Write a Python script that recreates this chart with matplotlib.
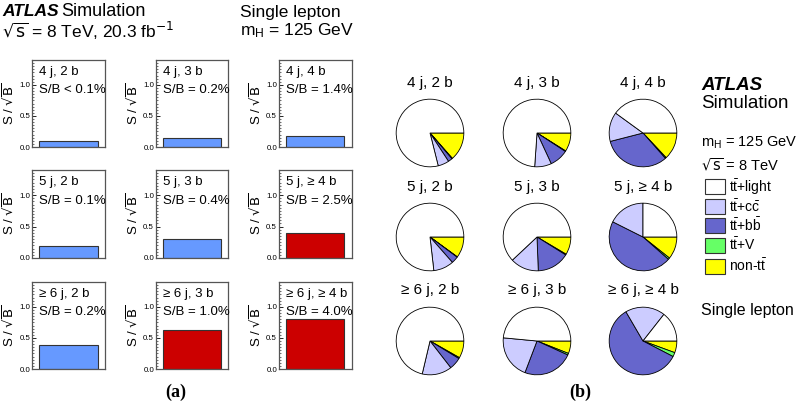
import matplotlib
matplotlib.use("Agg")
import matplotlib.pyplot as plt
from matplotlib.ticker import MultipleLocator
from matplotlib.patches import Rectangle

plt.rcParams["font.family"] = ["Liberation Sans", "DejaVu Sans"]
plt.rcParams["mathtext.fontset"] = "custom"
plt.rcParams["mathtext.rm"] = "Liberation Sans"
plt.rcParams["mathtext.it"] = "Liberation Sans:italic"
plt.rcParams["mathtext.bf"] = "Liberation Sans:bold"

W, H = 798, 403

# ---- data ----
regions = ["4 j, 2 b", "4 j, 3 b", "4 j, 4 b",
           "5 j, 2 b", "5 j, 3 b", "5 j, \u2265 4 b",
           "\u2265 6 j, 2 b", "\u2265 6 j, 3 b", "\u2265 6 j, \u2265 4 b"]
s_over_b = ["S/B < 0.1%", "S/B = 0.2%", "S/B = 1.4%",
            "S/B = 0.1%", "S/B = 0.4%", "S/B = 2.5%",
            "S/B = 0.2%", "S/B = 1.0%", "S/B = 4.0%"]
s_over_sqrtb = [0.09, 0.15, 0.18,
                0.19, 0.31, 0.40,
                0.39, 0.63, 0.81]
signal_rich = [False, False, False,
               False, False, True,
               False, True, True]

# pie fractions (%) in drawing order: non-tt, tt+V, tt+bb, tt+cc, tt+light
non_tt = [13.5, 8.9, 13.0, 10.0, 8.5, 10.7, 8.2, 6.0, 5.6]
tt_v = [0.3, 0.3, 0.5, 0.2, 0.4, 0.8, 0.5, 0.8, 2.0]
tt_bb = [2.0, 8.9, 32.5, 3.3, 15.5, 45.9, 5.8, 24.0, 59.0]
tt_cc = [5.3, 8.0, 14.0, 9.7, 13.6, 17.6, 14.2, 20.7, 19.0]
tt_light = [78.9, 73.9, 40.0, 76.8, 62.0, 25.0, 71.3, 48.5, 14.4]

comp_labels = [r"$\mathrm{t\bar{t}}$+light", r"$\mathrm{t\bar{t}}$+$\mathrm{c\bar{c}}$",
               r"$\mathrm{t\bar{t}}$+$\mathrm{b\bar{b}}$", r"$\mathrm{t\bar{t}}$+V",
               r"non-$\mathrm{t\bar{t}}$"]
comp_colors = ["white", "#ccccff", "#6666cc", "#66ff66", "#ffff00"]

fig = plt.figure(figsize=(W / 100, H / 100), dpi=100)


def fx(x):
    return x / W


def fy(y):
    return 1 - y / H


def ftext(x, y, s, **kw):
    kw.setdefault("va", "center")
    fig.text(fx(x), fy(y), s, **kw)


# ---- (a) bar panels ----
col_left = [32, 155.5, 278.5]
row_tb = [(60, 147), (170, 258), (282, 369)]
aw = 73
for i in range(9):
    r, c = divmod(i, 3)
    top, bot = row_tb[r]
    ax = fig.add_axes([fx(col_left[c]), fy(bot), aw / W, (bot - top) / H])
    color = "#cc0000" if signal_rich[i] else "#6699ff"
    ax.bar([0.5], [s_over_sqrtb[i]], width=0.8, color=color, edgecolor="#333333", lw=0.8)
    ax.set_xlim(0, 1)
    ax.set_ylim(0, 1.4)
    ax.set_xticks([])
    ax.yaxis.set_minor_locator(MultipleLocator(0.05))
    ax.set_yticks([0, 0.5, 1.0])
    ax.set_yticklabels(["0.0", "0.5", "1.0"])
    ax.tick_params(axis="y", which="major", direction="in", length=3, labelsize=5.7, pad=1, width=0.6)
    ax.tick_params(axis="y", which="minor", direction="in", length=1.5, width=0.4)
    for sp in ax.spines.values():
        sp.set_color("#555555")
        sp.set_linewidth(0.9)
    ax.set_ylabel(r"S / $\sqrt{\mathrm{B}}$", fontsize=9.5, labelpad=2,
                  math_fontfamily="dejavusans")
    ax.text(0.1, 0.93, regions[i], transform=ax.transAxes, fontsize=9.5, va="top")
    ax.text(0.1, 0.72, s_over_b[i], transform=ax.transAxes, fontsize=9.5, va="top")

ftext(2, 12, "ATLAS", fontsize=12.5, fontweight="bold", style="italic")
ftext(61, 12, "Simulation", fontsize=13)
ftext(2, 31, r"$\sqrt{\mathrm{s}}$ = 8 TeV, 20.3 fb$^{\mathrm{-1}}$", fontsize=12.5,
      math_fontfamily="dejavusans")
ftext(240, 12, "Single lepton", fontsize=12.5)
ftext(240, 31, r"m$_\mathrm{H}$ = 125 GeV", fontsize=12.5)
ftext(176, 392, "(a)", fontsize=13, fontweight="bold", family="Liberation Serif", ha="center")

# ---- (b) pie charts ----
pie_cx = [430, 537, 643]
pie_cy = [133, 237, 341]
title_y = [83, 187, 290]
rad = 34.5
for i in range(9):
    r, c = divmod(i, 3)
    ax = fig.add_axes([fx(pie_cx[c] - rad), fy(pie_cy[r] + rad), 2 * rad / W, 2 * rad / H])
    vals = [non_tt[i], tt_v[i], tt_bb[i], tt_cc[i], tt_light[i]]
    cols = [comp_colors[4], comp_colors[3], comp_colors[2], comp_colors[1], comp_colors[0]]
    ax.pie(vals, colors=cols, startangle=0, counterclock=False, radius=1,
           wedgeprops=dict(edgecolor="black", linewidth=0.6))
    ax.set_xlim(-1.02, 1.02)
    ax.set_ylim(-1.02, 1.02)
    ax.set_aspect("equal")
    ax.axis("off")
    ftext(pie_cx[c], title_y[r], regions[i], fontsize=11, ha="center")

ftext(701, 85, "ATLAS", fontsize=13.5, fontweight="bold", style="italic")
ftext(701, 104, "Simulation", fontsize=13.5)
ftext(701, 143, r"m$_\mathrm{H}$ = 125 GeV", fontsize=10.5)
ftext(701, 165, r"$\sqrt{\mathrm{s}}$ = 8 TeV", fontsize=10.5, math_fontfamily="dejavusans")
leg_y = [187, 206.5, 225.5, 245, 266]
for y, lab, col in zip(leg_y, comp_labels, comp_colors):
    fig.patches.append(Rectangle((fx(705), fy(y + 7.5)), 20 / W, 15 / H, transform=fig.transFigure,
                                 facecolor=col, edgecolor="#333333", lw=0.8))
    ftext(729, y, lab, fontsize=10)
ftext(701, 310, "Single lepton", fontsize=11.5)
ftext(580, 392, "(b)", fontsize=13, fontweight="bold", family="Liberation Serif", ha="center")

fig.savefig("out.png", dpi=100)
